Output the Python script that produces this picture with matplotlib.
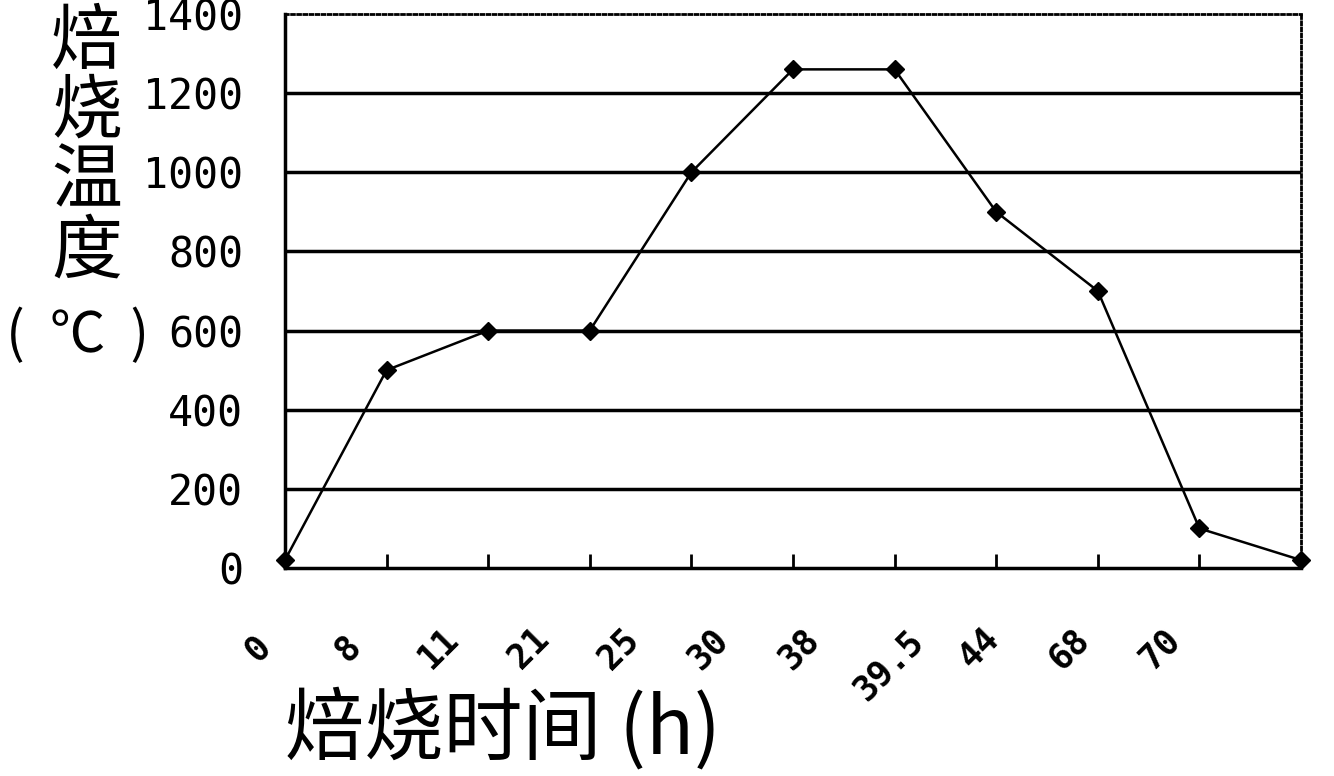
import matplotlib.pyplot as plt
from matplotlib.transforms import blended_transform_factory

# roasting time (h) categories and temperature (C)
hours = ['0', '8', '11', '21', '25', '30', '38', '39.5', '44', '68', '70']
temps = [20, 500, 600, 600, 1000, 1260, 1260, 900, 700, 100, 20]
yticks = [0, 200, 400, 600, 800, 1000, 1200, 1400]

cjk = ['Noto Sans CJK SC', 'DejaVu Sans']

fig = plt.figure(figsize=(13.34, 7.76), dpi=100)
ax = fig.add_axes([0.2136, 0.268, 0.7617, 0.714])

xs = list(range(len(hours)))
ax.plot(xs, temps, color='black', linewidth=1.8, marker='D', markersize=9,
        clip_on=False, zorder=5)

ax.set_xlim(0, len(hours) - 1)
ax.set_ylim(0, 1400)
ax.set_yticks(yticks)
ax.set_yticklabels([str(v) for v in yticks], family='DejaVu Sans Mono', fontsize=30)
ax.tick_params(axis='y', length=0, pad=30)
for v in yticks[1:-1]:
    ax.axhline(v, color='black', linewidth=2.5, zorder=1)

ax.set_xticks(xs)
ax.set_xticklabels([])
ax.tick_params(axis='x', direction='in', length=10, width=2)

# Excel-style rotated category labels, slightly compressed toward the left
trans = blended_transform_factory(ax.transData, ax.transAxes)
for i, lab in enumerate(hours):
    ax.text(-0.27 + 0.888 * i, -0.145 - (0.03 if len(lab) > 3 else 0), lab,
            transform=trans, rotation=45, ha='center', va='center',
            family='DejaVu Sans Mono', fontweight='bold', fontsize=25)

for side in ['left', 'bottom']:
    ax.spines[side].set_linewidth(2.5)
for side in ['top', 'right']:
    ax.spines[side].set_linewidth(2)
    ax.spines[side].set_linestyle((0, (1, 1.2)))

# vertical y label
for k, ch in enumerate('焙烧温度'):
    fig.text(0.065, 1 - (42 + 70 * k) / 776, ch, family=cjk, fontsize=51,
             ha='center', va='center')
fig.text(0.058, 1 - 336 / 776, '(  ℃  )', family=cjk, fontsize=40,
         ha='center', va='center')

fig.text(0.2136, 1 - 730 / 776, '焙烧时间 (h)', family=cjk, fontsize=57,
         ha='left', va='center')

fig.savefig('out.png', dpi=100, facecolor='white')
